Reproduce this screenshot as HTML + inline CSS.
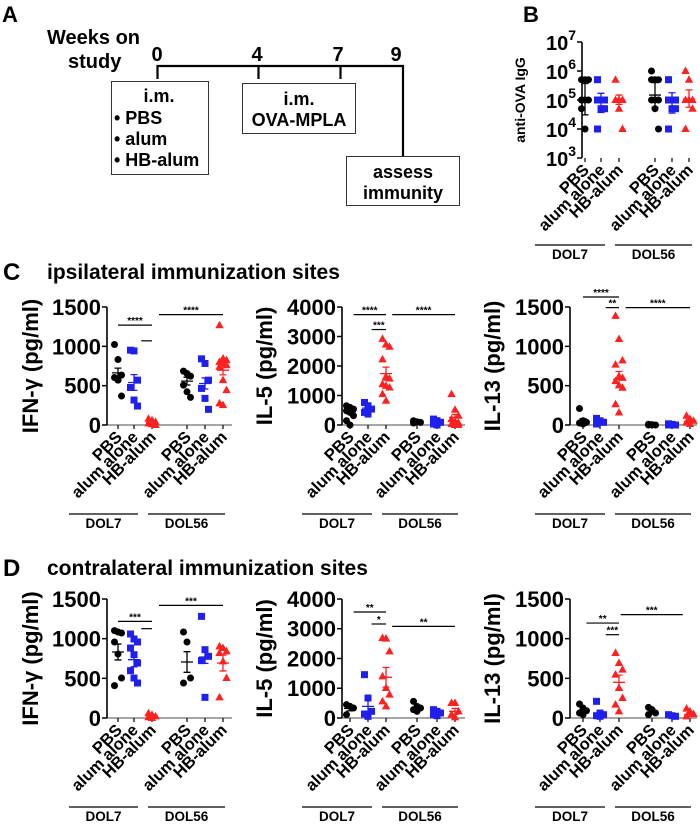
<!DOCTYPE html>
<html><head><meta charset="utf-8"><style>
html,body{margin:0;padding:0;background:#fff}
svg{display:block;font-family:"Liberation Sans",Arial,sans-serif;font-weight:bold}
</style></head><body>
<svg id="fig" width="700" height="824" viewBox="0 0 700 824" xmlns="http://www.w3.org/2000/svg">
<g>
<text x="2" y="22" font-size="22">A</text>
<text x="47" y="44" font-size="20">Weeks on</text>
<text x="68" y="68" font-size="20">study</text>
<text x="157" y="61" font-size="20" text-anchor="middle">0</text>
<text x="257" y="61" font-size="20" text-anchor="middle">4</text>
<text x="338" y="61" font-size="20" text-anchor="middle">7</text>
<text x="396" y="61" font-size="20" text-anchor="middle">9</text>
<path d="M157.5 79V66H403V156M258.5 66V79M340.5 66V79" fill="none" stroke="#000" stroke-width="2.2"/>
<rect x="111.5" y="81.5" width="97" height="93" fill="#fff" stroke="#333"/>
<text x="159" y="102" font-size="18" text-anchor="middle">i.m.</text>
<text x="114" y="124" font-size="18">• PBS</text>
<text x="114" y="145" font-size="18">• alum</text>
<text x="114" y="166" font-size="18">• HB-alum</text>
<rect x="242.5" y="83.5" width="113" height="50" fill="#fff" stroke="#333"/>
<text x="299" y="105" font-size="18" text-anchor="middle">i.m.</text>
<text x="299" y="126" font-size="18" text-anchor="middle">OVA-MPLA</text>
<rect x="346.5" y="156.5" width="113" height="49" fill="#fff" stroke="#333"/>
<text x="403" y="178" font-size="18" text-anchor="middle">assess</text>
<text x="403" y="199" font-size="18" text-anchor="middle">immunity</text>
</g>
<text x="523" y="22" font-size="22">B</text>
<text x="3" y="280" font-size="24">C</text>
<text x="47" y="279" font-size="21">ipsilateral immunization sites</text>
<text x="3" y="576" font-size="24">D</text>
<text x="47" y="575" font-size="21">contralateral immunization sites</text>
<g id="charts"></g>
</svg>
<script>
const NS="http://www.w3.org/2000/svg";
const groups=["PBS","alum alone","HB-alum","PBS","alum alone","HB-alum"];
const colors=["#000","#2020ee","#ff2020","#000","#2020ee","#ff2020"];
const shapes=["circle","square","triangle","circle","square","triangle"];
// Panel B (log10 values)
const bPoints=[[5.7,5.7,5.7,5,5,5,4.7,4],[5.7,5,5,5,4.7,4.7,4],[5.7,5,5,5,4.7,4],[6,5.7,5.7,5.7,5,5,5,4.7,4],[5.7,5,5,5,4.7,4.7,4],[6,5.7,5,5,5,4.7,4]];
const bMean=[5.03,5.0,5.0,5.17,5.0,5.03];
const bHi=[5.57,5.23,5.17,5.6,5.25,5.35];
const bLo=[4.49,4.57,4.85,4.75,4.55,4.75];
const bTicks=[3,4,5,6,7];
// C IFN-gamma
const cIfnPoints=[[1023,832,634,604,570,368],[951,942,570,477,317,241],[80,60,40,20,10,0],[685,655,621,507,422,351],[841,782,570,465,338,199],[1268,845,824,803,782,760,740,570,444,275,253]];
const cIfnMean=[663,540,30,558,528,697];
const cIfnSem=[60,100,10,50,70,60];
// C IL-5
const cIl5Points=[[652,596,539,483,427,315,146,0],[764,652,539,427,371],[2921,2730,2652,2225,1640,1573,1382,1326,1270,1045,820],[146,112,90,67],[200,146,90,34,0],[1045,517,315,200,112,67,34,0,0]];
const cIl5Mean=[449,573,1742,100,100,258];
const cIl5Sem=[70,60,220,15,30,100];
// C IL-13
const cIl13Points=[[209,54,34,25,13],[84,54,34,13],[1387,1094,821,767,620,599,557,503,474,264,159],[10,5,0,0],[15,8,0,0],[117,75,54,34,13]];
const cIl13Mean=[50,45,580,4,6,45];
const cIl13Sem=[30,15,100,2,3,20];
// D IFN-gamma
const dIfnPoints=[[1101,1084,1071,958,807,504,408],[1059,996,958,882,798,693,597,504,441],[60,40,20,10,0],[1084,958,504,441],[1281,861,777,723,260],[903,882,840,819,714,504,260]];
const dIfnMean=[832,735,25,706,769,693];
const dIfnSem=[100,90,10,130,80,100];
// D IL-5
const dIl5Points=[[448,392,336,112],[1457,672,224,134,56],[2689,2667,2241,1400,1008,784,560,392],[560,392,336,280,224],[280,224,168,112,78],[504,504,224,112,22]];
const dIl5Mean=[320,392,1367,300,170,224];
const dIl5Sem=[80,200,330,60,40,100];
// D IL-13
const dIl13Points=[[176,126,92,63,42],[210,63,42,29,21],[819,693,609,546,378,252,168,84],[134,105,63,42],[42,29,21],[118,84,50,21]];
const dIl13Mean=[80,60,450,70,30,40];
const dIl13Sem=[25,30,90,20,8,20];
// significance: [fromIndex,toIndex,value,label]
const cIfnSig=[[0,2,1270,"****"],[1.4,2,1070,""],[2.2,5,1403,"****"]];
const cIl5Sig=[[0.2,2,3742,"****"],[1.2,2,3236,"***"],[2.2,5,3742,"****"]];
const cIl13Sig=[[0,2,1627,"****"],[1.3,2,1492,"**"],[2.2,5,1492,"****"]];
const dIfnSig=[[0,2,1218,"***"],[1.4,2,1126,""],[2.2,5,1420,"***"]];
const dIl5Sig=[[0.2,2,3563,"**"],[1.2,2,3160,"*"],[2.2,5,3081,"**"]];
const dIl13Sig=[[0.2,2,1197,"**"],[1.3,2,1050,"***"],[2.05,4.6,1303,"***"]];
const ticks1500=[0,500,1000,1500];
const ticks4000=[0,1000,2000,3000,4000];

const root=document.getElementById('charts');
function el(tag,attrs,parent){const e=document.createElementNS(NS,tag);for(const k in attrs)e.setAttribute(k,attrs[k]);(parent||root).appendChild(e);return e;}

function panel(cfg){
  const g=el('g',{});
  
  
  const yS=v=>cfg.y0-(v-cfg.min)/(cfg.max-cfg.min)*(cfg.y0-cfg.ytop);
  const gx=i=>{const a=Math.floor(i),b=Math.min(a+1,5),f=i-a;return cfg.xs[a]+(cfg.xs[b]-cfg.xs[a])*f;};
  if(cfg.zeroLine){const z=el('line',{x1:cfg.ax,x2:cfg.xend,y1:cfg.y0,y2:cfg.y0,stroke:'#888','stroke-width':1.5},g);
    }
  const ya=el('line',{x1:cfg.ax,x2:cfg.ax,y1:cfg.ytop,y2:cfg.y0,stroke:'#000','stroke-width':1.6},g);
  
  cfg.ticks.forEach(t=>{
    const y=yS(t);
    el('line',{x1:cfg.ax-5,x2:cfg.ax,y1:y,y2:y,stroke:'#000','stroke-width':1.5},g);
    const tx=el('text',{x:cfg.ax-6,y:y+cfg.tickSize*0.36,'font-size':cfg.tickSize,'text-anchor':'end'},g);
    
    if(cfg.log){tx.setAttribute('y',y+8);tx.textContent='10';const s=el('tspan',{'font-size':cfg.tickSize*0.7,dy:-10},tx);s.textContent=String(t);}
    else tx.textContent=String(t);
  });
  const yt=el('text',{x:0,y:0,'font-size':cfg.titleSize,'text-anchor':'middle',transform:`translate(${cfg.titleX},${(cfg.ytop+cfg.y0)/2}) rotate(-90)`},g);
  
  yt.textContent=cfg.title;
  cfg.xs.forEach((x,i)=>{
    el('line',{x1:x,x2:x,y1:cfg.y0,y2:cfg.y0+4,stroke:'#000','stroke-width':1.2},g);
    const lb=el('text',{x:0,y:0,'font-size':16.5,'text-anchor':'end',transform:`translate(${x+5},${cfg.y0+13}) rotate(-45)`},g);
    
    lb.textContent=groups[i];
  });
  cfg.dol.forEach((d,k)=>{
    el('line',{x1:d[0],x2:d[1],y1:cfg.y0+cfg.dolOff,y2:cfg.y0+cfg.dolOff,stroke:'#000','stroke-width':1.2},g);
    const t=el('text',{x:(d[0]+d[1])/2,y:cfg.y0+cfg.dolOff+14,'font-size':13.5,'text-anchor':'middle'},g);
    
    t.textContent=k?'DOL56':'DOL7';
  });
  cfg.points.forEach((arr,i)=>{
    const c=colors[i];
    arr.forEach((v,k)=>{
      const x=cfg.xs[i]+((k%3)-1)*3.5, y=yS(v);
      let m;
      if(shapes[i]==='circle')m=el('circle',{cx:x,cy:y,r:3.5,fill:c},g);
      else if(shapes[i]==='square')m=el('rect',{x:x-3.5,y:y-3.5,width:7,height:7,fill:c},g);
      else m=el('polygon',{points:`${x},${y-4.5} ${x+4.2},${y+3} ${x-4.2},${y+3}`,fill:c},g);
      
      
    });
    const mx=cfg.xs[i];
    const hi=cfg.hi?yS(cfg.hi[i]):yS(cfg.mean[i]+cfg.sem[i]);
    const lo=cfg.lo?yS(cfg.lo[i]):yS(Math.max(cfg.min,cfg.mean[i]-cfg.sem[i]));
    const my=yS(cfg.mean[i]);
    const eb=el('path',{d:`M${mx-6} ${my}H${mx+6}M${mx} ${hi}V${lo}M${mx-3.5} ${hi}H${mx+3.5}M${mx-3.5} ${lo}H${mx+3.5}`,stroke:c,'stroke-width':1.3,fill:'none'},g);
    
    
  });
  (cfg.sig||[]).forEach(s=>{
    const y=yS(s[2]);
    const l=el('line',{x1:gx(s[0]),x2:gx(s[1]),y1:y,y2:y,stroke:'#000','stroke-width':1.2},g);
    
    if(s[3]){const t=el('text',{x:(gx(s[0])+gx(s[1]))/2,y:y-1,'font-size':10,'text-anchor':'middle'},g);
      t.textContent=s[3];}
  });
}
const xsL=[118,134,152,187,205,223],xsM=[350,368,386,417,437,455],xsR=[583,600,619,652,672,690];
panel({name:'panel-b-chart',log:true,min:3,max:7,ax:582,y0:158,ytop:42,xs:[585,601,619,655,672,689],xend:692,ticks:bTicks,tickSize:20,title:'anti-OVA IgG',titleSize:14,titleX:525,
 points:bPoints,mean:bMean,hi:bHi,lo:bLo,dol:[[535,605],[615,692]],dolOff:87,zeroLine:false});
function row(prefix,y0,ytop,ifn,il5,il13){
 panel({name:prefix+'-ifn-chart',min:0,max:1500,ax:107,y0:y0,ytop:ytop,xs:xsL,xend:232,ticks:ticks1500,tickSize:22,title:'IFN-γ (pg/ml)',titleSize:22,titleX:38,
   points:ifn[0],mean:ifn[1],sem:ifn[2],sig:ifn[3],dol:[[69,138],[148,225]],dolOff:89,zeroLine:true});
 panel({name:prefix+'-il5-chart',min:0,max:4000,ax:342,y0:y0,ytop:ytop,xs:xsM,xend:465,ticks:ticks4000,tickSize:22,title:'IL-5 (pg/ml)',titleSize:22,titleX:272,
   points:il5[0],mean:il5[1],sem:il5[2],sig:il5[3],dol:[[302,372],[382,458]],dolOff:89,zeroLine:true});
 panel({name:prefix+'-il13-chart',min:0,max:1500,ax:570,y0:y0,ytop:ytop,xs:xsR,xend:697,ticks:ticks1500,tickSize:22,title:'IL-13 (pg/ml)',titleSize:22,titleX:500,
   points:il13[0],mean:il13[1],sem:il13[2],sig:il13[3],dol:[[535,605],[615,691]],dolOff:89,zeroLine:true});
}
row('panel-c',425,307,[cIfnPoints,cIfnMean,cIfnSem,cIfnSig],[cIl5Points,cIl5Mean,cIl5Sem,cIl5Sig],[cIl13Points,cIl13Mean,cIl13Sem,cIl13Sig]);
row('panel-d',718,599,[dIfnPoints,dIfnMean,dIfnSem,dIfnSig],[dIl5Points,dIl5Mean,dIl5Sem,dIl5Sig],[dIl13Points,dIl13Mean,dIl13Sem,dIl13Sig]);
</script>
</body></html>
